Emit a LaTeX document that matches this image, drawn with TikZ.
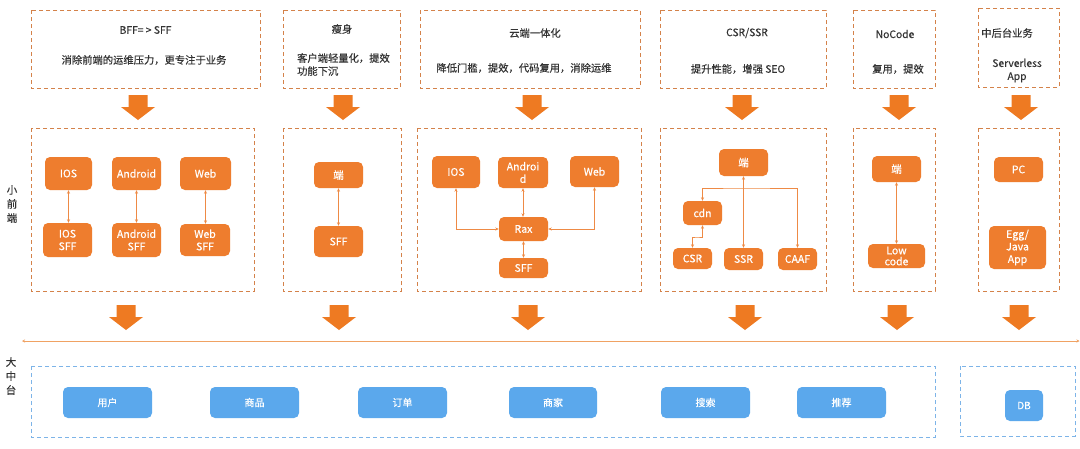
\documentclass[tikz,border=0pt]{standalone}
\usepackage{fontspec}
\setmainfont{Noto Sans CJK SC}[FakeBold=0.4]
\usetikzlibrary{arrows.meta,calc}
\definecolor{onode}{HTML}{EE7D2E}
\definecolor{oarrow}{HTML}{EE7A22}
\definecolor{odash}{HTML}{D4824A}
\definecolor{bnode}{HTML}{5BA8EC}
\definecolor{bdash}{HTML}{7DB4E8}
\definecolor{oline}{HTML}{F0A263}
\definecolor{txt}{HTML}{333333}
\definecolor{conn}{HTML}{EE8A45}
\tikzset{
  obox/.style={draw=odash, line width=1pt, dash pattern=on 4pt off 3pt},
  bbox/.style={draw=bdash, line width=1pt, dash pattern=on 4pt off 3pt},
  onodest/.style={fill=onode, rounded corners=5pt, text=white, inner sep=1pt, align=center,
    font=\fontsize{10.5}{12.5}\selectfont},
  bnodest/.style={fill=bnode, rounded corners=5pt, text=white, inner sep=1pt,
    font=\fontsize{10}{11}\selectfont},
  ttext/.style={text=txt, inner sep=0pt, font=\fontsize{10.3}{13}\selectfont},
  side/.style={text=txt, inner sep=0pt, align=center, font=\fontsize{10.5}{14}\selectfont},
  dbl/.style={draw=conn, line width=0.8pt, {Stealth[length=3.5pt,width=3pt]}-{Stealth[length=3.5pt,width=3pt]}},
  bigarr/.pic={\fill[oarrow] (-9.5,0) -- (9.5,0) -- (9.5,12) -- (17,12) -- (0,25) -- (-17,12) -- (-9.5,12) -- cycle;}
}
\begin{document}
\begin{tikzpicture}[x=1pt,y=-1pt]
\useasboundingbox (0,0) rectangle (1080,448);
\fill[white] (0,0) rectangle (1080,448);

% top boxes
\draw[obox] (31,10) rectangle (260,88);
\draw[obox] (283,10) rectangle (400,88);
\draw[obox] (420,10) rectangle (640,88);
\draw[obox] (660,10) rectangle (826,88);
\draw[obox] (853,10) rectangle (935,88);
\draw[obox] (978,8) rectangle (1059,87);

\node[ttext] (t1a) at (145.5,30) {BFF= > SFF};
\node[ttext] (t1b) at (144,60) {消除前端的运维压力，更专注于业务};
\node[ttext] (t2a) at (342,29) {瘦身};
\node[ttext, align=left] (t2b) at (343.5,64.5) {客户端轻量化，提效\\功能下沉};
\node[ttext] (t3a) at (535,33) {云端一体化};
\node[ttext] (t3b) at (524,68) {降低门槛，提效，代码复用，消除运维};
\node[ttext] (t4a) at (747,33) {CSR/SSR};
\node[ttext] (t4b) at (738,69) {提升性能，增强 SEO};
\node[ttext] (t5a) at (895,34) {NoCode};
\node[ttext] (t5b) at (898,69) {复用，提效};
\node[ttext] (t6a) at (1007,33) {中后台业务};
\node[ttext, align=center] (t6b) at (1017,70.5) {Serverless\\App};

% arrows row 1
\foreach \x in {138,343,532,742,899,1021} \pic at (\x,95) {bigarr};

% middle boxes
\draw[obox] (31,128) rectangle (254,291);
\draw[obox] (283,128) rectangle (401,291);
\draw[obox] (417,128) rectangle (641,291);
\draw[obox] (660,128) rectangle (826,291);
\draw[obox] (853,128) rectangle (935,291);
\draw[obox] (978,128) rectangle (1059,291);

% box 1
\node[onodest, minimum width=47pt, minimum height=33pt] (ios1) at (68.5,173.5) {IOS};
\node[onodest, minimum width=49pt, minimum height=33pt] (and1) at (136.5,173.5) {Android};
\node[onodest, minimum width=51pt, minimum height=33pt] (web1) at (205.5,173.5) {Web};
\node[onodest, minimum width=49pt, minimum height=34pt] (iossff) at (67.5,240) {IOS\\SFF};
\node[onodest, minimum width=49pt, minimum height=34pt] (andsff) at (136.5,240) {Android\\SFF};
\node[onodest, minimum width=50pt, minimum height=32pt] (websff) at (205,240) {Web\\SFF};
\draw[dbl] (ios1.south) -- (ios1.south |- iossff.north);
\draw[dbl] (and1.south) -- (andsff.north);
\draw[dbl] (web1.south) -- (web1.south |- websff.north);

% box 2
\node[onodest, minimum width=49pt, minimum height=26pt] (duan2) at (338.5,175) {端};
\node[onodest, minimum width=49pt, minimum height=31pt] (sff2) at (338.5,241.5) {SFF};
\draw[dbl] (duan2.south) -- (sff2.north);

% box 3
\node[onodest, minimum width=48pt, minimum height=32pt] (ios3) at (456,172) {IOS};
\node[onodest, minimum width=50pt, minimum height=31pt] (and3) at (523,172.5) {Androi\\d};
\node[onodest, minimum width=49pt, minimum height=31pt] (web3) at (594.5,171.5) {Web};
\node[onodest, minimum width=49pt, minimum height=24pt] (rax) at (523.5,229) {Rax};
\node[onodest, minimum width=49pt, minimum height=20pt] (sff3) at (523.5,268) {SFF};
\draw[dbl] (ios3.south) |- (rax.west);
\draw[dbl] (web3.south) |- (rax.east);
\draw[dbl] (and3.south) -- (and3.south |- rax.north);
\draw[dbl] (rax.south) -- (sff3.north);

% box 4
\node[onodest, minimum width=49pt, minimum height=27pt] (duan4) at (743.5,162.5) {端};
\node[onodest, minimum width=39pt, minimum height=24pt] (cdn) at (702.5,213) {cdn};
\node[onodest, minimum width=39pt, minimum height=21pt] (csr) at (692.5,258.5) {CSR};
\node[onodest, minimum width=39pt, minimum height=22pt] (ssr) at (743.5,259) {SSR};
\node[onodest, minimum width=39pt, minimum height=22pt] (caaf) at (797.5,259) {CAAF};
\coordinate (h4) at (743.5,188);
\coordinate (k4) at (697,237);
\draw[dbl] (duan4.south) -- (ssr.north);
\draw[dbl] (cdn.north) |- (h4) -| (caaf.north);
\draw[dbl] (cdn.south) |- (k4) -| (csr.north);

% box 5
\node[onodest, minimum width=49pt, minimum height=26pt] (duan5) at (896.5,169) {端};
\node[onodest, minimum width=57pt, minimum height=24pt, font=\fontsize{10.5}{11}\selectfont] (low) at (896.5,256) {Low\\code};
\draw[dbl] (duan5.south) -- (low.north);

% box 6
\node[onodest, minimum width=49pt, minimum height=25pt] (pc) at (1018.5,169.5) {PC};
\node[onodest, minimum width=57pt, minimum height=43pt, font=\fontsize{10.5}{12.5}\selectfont] (egg) at (1017.5,247.5) {Egg/\\Java\\App};

% arrows row 2
\foreach \x in {126,339,528,745,897,1019} \pic at (\x,305) {bigarr};

% horizontal line
\coordinate (lL) at (22,341);
\coordinate (lR) at (1079.5,341);
\draw[oline, line width=1pt, {Stealth[length=3pt,width=3pt]}-{Stealth[length=3pt,width=3pt]}] (lL) -- (lR);

% side labels
\node[side] (s1) at (12,204) {小\\前\\端};
\node[side] (s2) at (11,376) {大\\中\\台};

% bottom
\draw[bbox] (31,366) rectangle (935,437);
\draw[bbox] (960,366) rectangle (1075,436);
\node[bnodest, minimum width=89pt, minimum height=31pt] (yh) at (107.5,402.5) {用户};
\node[bnodest, minimum width=89pt, minimum height=31pt] (sp) at (254.5,402.5) {商品};
\node[bnodest, minimum width=89pt, minimum height=31pt] (dd) at (402.5,402.5) {订单};
\node[bnodest, minimum width=88pt, minimum height=31pt] (sj) at (553,402.5) {商家};
\node[bnodest, minimum width=89pt, minimum height=31pt] (ss) at (705.5,402.5) {搜索};
\node[bnodest, minimum width=89pt, minimum height=31pt] (tj) at (841.5,402.5) {推荐};
\node[bnodest, minimum width=38pt, minimum height=31pt] (db) at (1024,405.5) {DB};
\end{tikzpicture}
\end{document}
